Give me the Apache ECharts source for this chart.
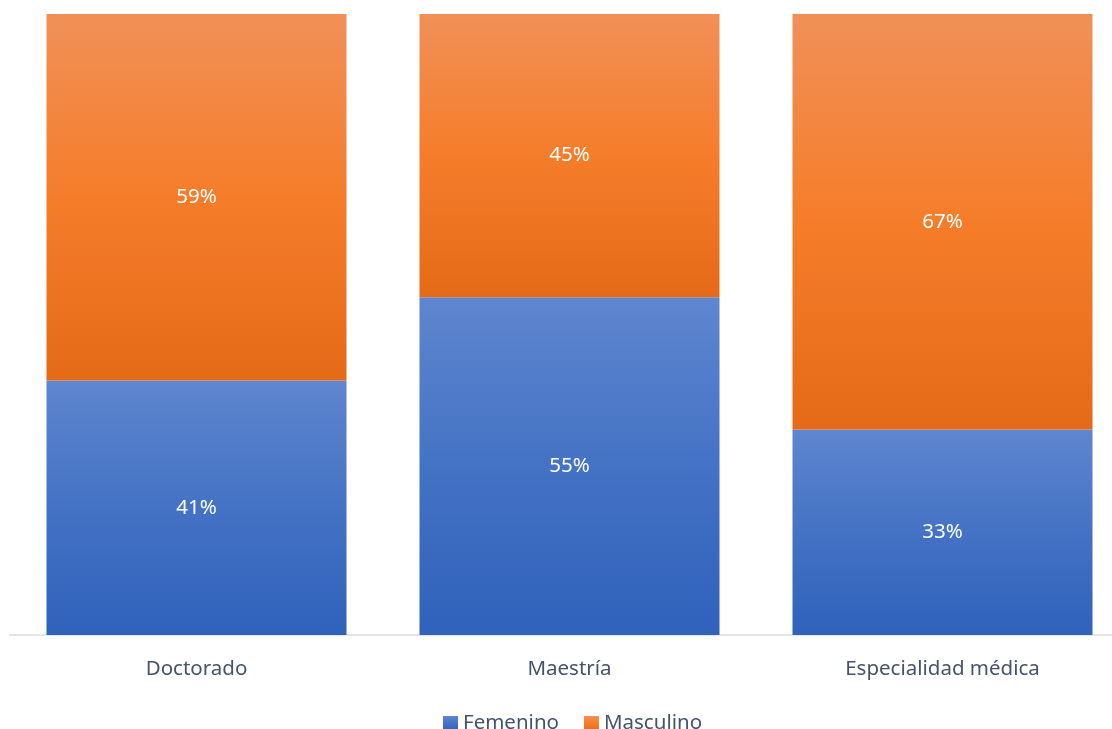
<!DOCTYPE html>
<html>
<head>
<meta charset="utf-8">
<script src="https://cdn.jsdelivr.net/npm/echarts@6/dist/echarts.min.js"></script>
<style>
  html, body { margin: 0; padding: 0; background: #fff; }
  #main { width: 1112px; height: 729px; }
</style>
</head>
<body>
<div id="main"></div>
<script>
// categorías y porcentajes
var categories = ['Doctorado', 'Maestría', 'Especialidad médica']
var femenino = [41, 54.4, 33.1]
var masculino = [59, 45.6, 66.9]
var femeninoLabels = ['41%', '55%', '33%']
var masculinoLabels = ['59%', '45%', '67%']

function grad(top, mid, bottom) {
  return new echarts.graphic.LinearGradient(0, 0, 0, 1, [
    { offset: 0, color: top },
    { offset: 0.5, color: mid },
    { offset: 1, color: bottom }
  ])
}

var chart = echarts.init(document.getElementById('main'))
var font = '"Noto Sans", "Open Sans", sans-serif'
var fsize = 20.5

var option = {
  animation: false,
  textStyle: { fontFamily: font },
  legend: {
    data: [
      { name: 'Femenino', itemStyle: { color: grad('#5f86cf', '#4472c4', '#2f62bb') } },
      { name: 'Masculino', itemStyle: { color: grad('#f09058', '#f57d2a', '#e56a18') } }
    ],
    top: 708,
    left: 438,
    itemWidth: 15,
    itemHeight: 15,
    itemGap: 25,
    icon: 'rect',
    textStyle: { color: '#44546a', fontSize: fsize, fontFamily: font }
  },
  grid: {
    top: 14,
    bottom: 94,
    left: 10,
    width: 1119,
    outerBoundsMode: 'none'
  },
  xAxis: {
    type: 'category',
    data: categories,
    axisTick: { show: false },
    axisLine: { lineStyle: { color: '#e3e5ea', width: 2 } },
    axisLabel: { color: '#44546a', fontSize: fsize, margin: 24, fontFamily: font }
  },
  yAxis: {
    type: 'value',
    min: 0,
    max: 100,
    show: false,
    splitLine: { show: false }
  },
  series: [
    {
      name: 'Femenino',
      type: 'bar',
      stack: 'total',
      barWidth: 300,
      data: femenino,
      itemStyle: { color: grad('#5f86cf', '#4472c4', '#2f62bb') },
      label: {
        show: true,
        position: 'inside',
        color: '#fff',
        fontSize: fsize,
        fontFamily: font,
        formatter: function (p) { return femeninoLabels[p.dataIndex] }
      }
    },
    {
      name: 'Masculino',
      type: 'bar',
      stack: 'total',
      barWidth: 300,
      data: masculino,
      itemStyle: { color: grad('#f09058', '#f57d2a', '#e56a18') },
      label: {
        show: true,
        position: 'inside',
        color: '#fff',
        fontSize: fsize,
        fontFamily: font,
        formatter: function (p) { return masculinoLabels[p.dataIndex] }
      }
    }
  ]
}

chart.setOption(option)
</script>
</body>
</html>
